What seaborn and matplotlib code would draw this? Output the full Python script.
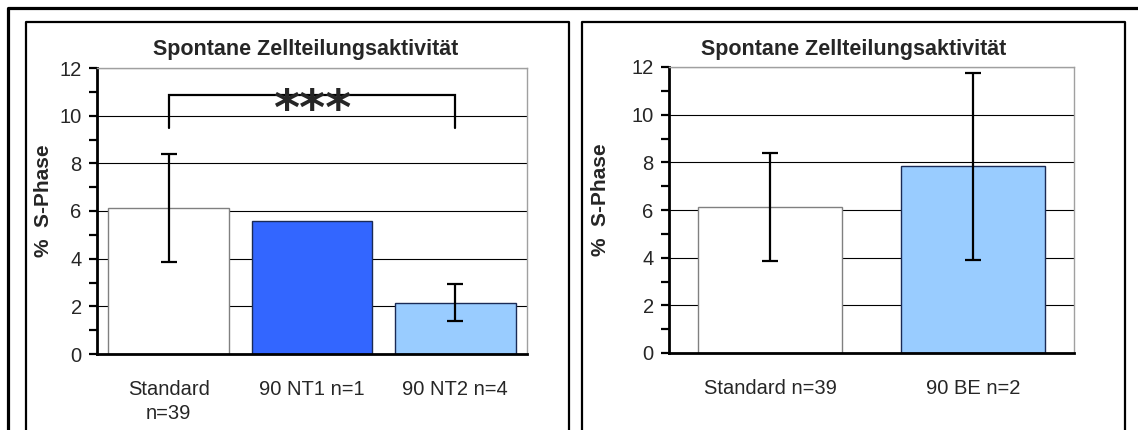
import matplotlib
matplotlib.use("Agg")
import matplotlib.pyplot as plt
import seaborn as sns
import numpy as np
from matplotlib.lines import Line2D
from matplotlib.ticker import MultipleLocator

# ---- data -------------------------------------------------------------
title = "Spontane Zellteilungsaktivität"
ylabel = "%  S-Phase"

left_labels = ["Standard\nn=39", "90 NT1 n=1", "90 NT2 n=4"]
left_values = [6.13, 5.58, 2.15]
left_err = [2.27, np.nan, 0.78]
left_colors = ["#FFFFFF", "#3366FF", "#99CCFF"]

right_labels = ["Standard n=39", "90 BE n=2"]
right_values = [6.13, 7.83]
right_err = [2.27, 3.93]
right_colors = ["#FFFFFF", "#99CCFF"]

# significance bracket between Standard and 90 NT2
sig_pair = (0, 2)
sig_levels = (9.5, 10.88)
sig_text = "***"

# ---- style ------------------------------------------------------------
sns.set_style("white")
plt.rcParams["font.family"] = ["Liberation Sans", "DejaVu Sans"]

W, H = 1138, 430
fig = plt.figure(figsize=(W / 100, H / 100), dpi=100)
fig.patch.set_facecolor("white")


def px_rect(x0, y0, x1, y1):
    """figure-fraction rect from pixel box (top-left origin)"""
    return [x0 / W, 1 - y1 / H, (x1 - x0) / W, (y1 - y0) / H]


def fig_line(xs, ys, lw):
    fig.add_artist(Line2D([x / W for x in xs], [1 - y / H for y in ys],
                          transform=fig.transFigure, color="black",
                          linewidth=lw, solid_capstyle="projecting"))


# outer border (open at right/bottom)
fig_line([8, 8, W + 5], [H + 5, 8, 8], 2.3)
# panel frames
for x0, x1 in [(26, 569), (582, 1125)]:
    fig_line([x0, x0, x1, x1], [H + 5, 22, 22, H + 5], 1.6)


def draw_panel(ax, labels, values, errs, colors, bar_width, label_x,
               title_x):
    sns.barplot(x=labels, y=values, hue=labels, palette=colors,
                width=bar_width, ax=ax, legend=False, saturation=1,
                linewidth=1.0, zorder=2)
    for patch, c in zip(ax.patches, colors):
        patch.set_edgecolor("#808080" if c == "#FFFFFF" else "#1a2a55")
    ax.errorbar(x=np.arange(len(values)), y=values, yerr=errs, fmt="none",
                ecolor="black", elinewidth=1.6, capsize=6, capthick=1.6,
                zorder=3)

    ax.set_ylim(0, 12)
    ax.set_xlim(-0.5, len(values) - 0.5)
    ax.yaxis.set_major_locator(MultipleLocator(2))
    ax.yaxis.set_minor_locator(MultipleLocator(1))
    ax.set_axisbelow(True)
    ax.grid(axis="y", which="major", color="black", linewidth=0.8)
    ax.grid(axis="x", visible=False)

    for side in ["left", "bottom"]:
        ax.spines[side].set_color("black")
        ax.spines[side].set_linewidth(2.0)
    for side in ["top", "right"]:
        ax.spines[side].set_color("#a0a0a0")
        ax.spines[side].set_linewidth(1.0)

    ax.tick_params(axis="y", which="both", direction="out", left=True,
                   length=6, width=1.6, color="black", pad=5,
                   labelsize=14.5)
    ax.tick_params(axis="x", bottom=False, pad=15, labelsize=14.5)
    for t in ax.get_xticklabels():
        t.set_horizontalalignment("center")
        t.set_linespacing(1.35)
    ax.set_xlabel("")
    ax.set_ylabel(ylabel, fontsize=15, fontweight="bold")
    ax.yaxis.set_label_coords(label_x, 0.535)

    fig.text(title_x / W, 1 - 50 / H, title, ha="center", va="center",
             fontsize=15.5, fontweight="bold")


ax1 = fig.add_axes(px_rect(97, 68, 527, 354))
draw_panel(ax1, left_labels, left_values, left_err, left_colors, 0.84,
           -0.102, 306)

# significance bracket
xa, xb = sig_pair
ya, yb = sig_levels
ax1.plot([xa, xa, xb, xb], [ya, yb, yb, ya], color="black", linewidth=1.6,
         zorder=4, solid_joinstyle="miter")
ax1.text((xa + xb) / 2, 9.62, sig_text, ha="center", va="baseline",
         fontsize=36, fontweight="bold", family="DejaVu Sans", zorder=5)

ax2 = fig.add_axes(px_rect(669, 67, 1074, 353))
draw_panel(ax2, right_labels, right_values, right_err, right_colors, 0.71,
           -0.146, 854)

fig.savefig("out.png", dpi=100, facecolor="white")
